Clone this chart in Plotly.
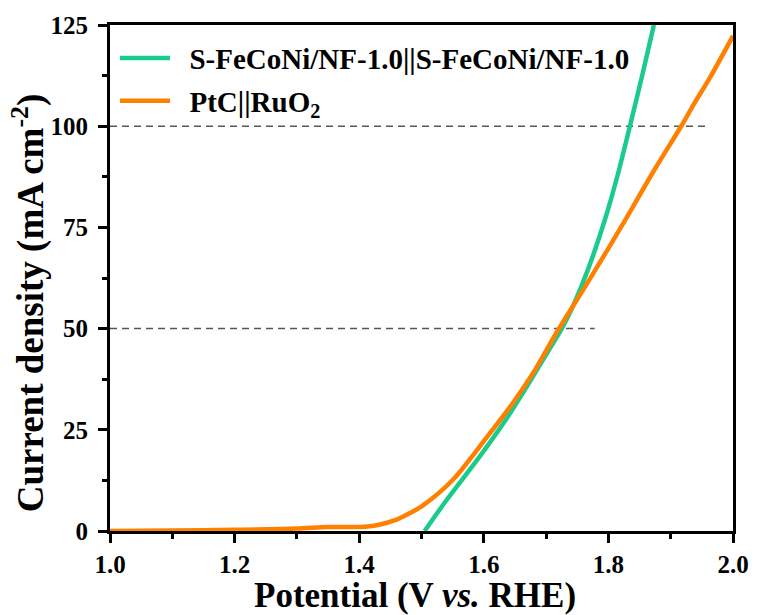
import plotly.graph_objects as go

# Data
green_v = [1.505, 1.540, 1.593, 1.635, 1.672, 1.704, 1.725, 1.743, 1.767, 1.794, 1.815, 1.835, 1.855, 1.873]
green_j = [0.0, 7.6, 18.3, 27.4, 36.4, 44.6, 49.9, 55.5, 64.5, 76.7, 88.0, 100.3, 113.0, 125.0]

orange_v = [1.0, 1.1, 1.2, 1.3, 1.35, 1.4, 1.43, 1.46, 1.48, 1.503, 1.55, 1.603, 1.646, 1.683,
            1.714, 1.749, 1.772, 1.820, 1.873, 1.918, 1.937, 1.963, 2.0]
orange_j = [0.0, 0.1, 0.3, 0.6, 1.0, 1.0, 1.5, 2.8, 4.3, 6.4, 12.6, 22.8, 31.5, 40.0,
            48.3, 57.0, 62.7, 75.0, 89.0, 100.3, 105.4, 112.0, 122.3]

ref_levels = [50, 100]
ref_start = [1.0, 1.0]
ref_end = [1.778, 1.955]

names = ["\u00a0\u00a0S-FeCoNi/NF-1.0||S-FeCoNi/NF-1.0", "\u00a0\u00a0PtC||RuO<sub>2</sub>"]
colors = ["#1ACB8C", "#FF8000"]

x_title = "Potential (V <i>vs.</i> RHE)"
y_title = "Current density (mA cm<sup>-2</sup>)"

FONT = "Liberation Serif"

fig = go.Figure()

for lvl, x0, x1 in zip(ref_levels, ref_start, ref_end):
    fig.add_trace(go.Scatter(x=[x0, x1], y=[lvl, lvl], mode="lines",
                             line=dict(color="#555555", width=1.5, dash="7px,5px"),
                             showlegend=False, hoverinfo="skip"))

fig.add_trace(go.Scatter(x=green_v, y=green_j, mode="lines", name=names[0],
                         line=dict(color=colors[0], width=4.5, shape="spline", smoothing=0.8),
                         legendgroup="a"))
fig.add_trace(go.Scatter(x=orange_v, y=orange_j, mode="lines", name=names[1],
                         line=dict(color=colors[1], width=4.5, shape="spline", smoothing=0.8),
                         legendgroup="b"))

axis_common = dict(
    showline=True, linecolor="black", linewidth=3, mirror=True,
    ticks="outside", tickcolor="black", tickwidth=2.5, ticklen=9,
    showgrid=False, zeroline=False,
    tickfont=dict(family=FONT, size=25, color="black", weight="bold"),
)

fig.update_xaxes(
    range=[1.0, 2.0], tick0=1.0, dtick=0.2, tickformat=".1f",
    minor=dict(dtick=0.1, ticks="outside", ticklen=5, tickwidth=2.5, tickcolor="black"),
    **axis_common,
)
fig.update_yaxes(
    range=[0, 125], tick0=0, dtick=25,
    minor=dict(dtick=12.5, ticks="outside", ticklen=5, tickwidth=2.5, tickcolor="black"),
    ticklabelstandoff=5,
    **axis_common,
)

fig.add_annotation(text=x_title, xref="paper", yref="paper", x=0.49, y=-0.128,
                   xanchor="center", yanchor="middle", showarrow=False,
                   font=dict(family=FONT, size=35, color="black", weight="bold"))
fig.add_annotation(text=y_title, xref="paper", yref="paper", x=-0.13, y=0.45,
                   xanchor="center", yanchor="middle", showarrow=False, textangle=-90,
                   font=dict(family=FONT, size=37, color="black", weight="bold"))

fig.update_layout(
    width=761, height=615,
    margin=dict(l=110, r=20, t=24, b=84),
    paper_bgcolor="white", plot_bgcolor="white",
    legend=dict(x=0.008, y=0.985, xanchor="left", yanchor="top",
                bgcolor="rgba(0,0,0,0)", borderwidth=0,
                font=dict(family=FONT, size=29, color="black", weight="bold"),
                itemwidth=50, tracegroupgap=2, traceorder="grouped"),
)

fig.write_html("out.html")
